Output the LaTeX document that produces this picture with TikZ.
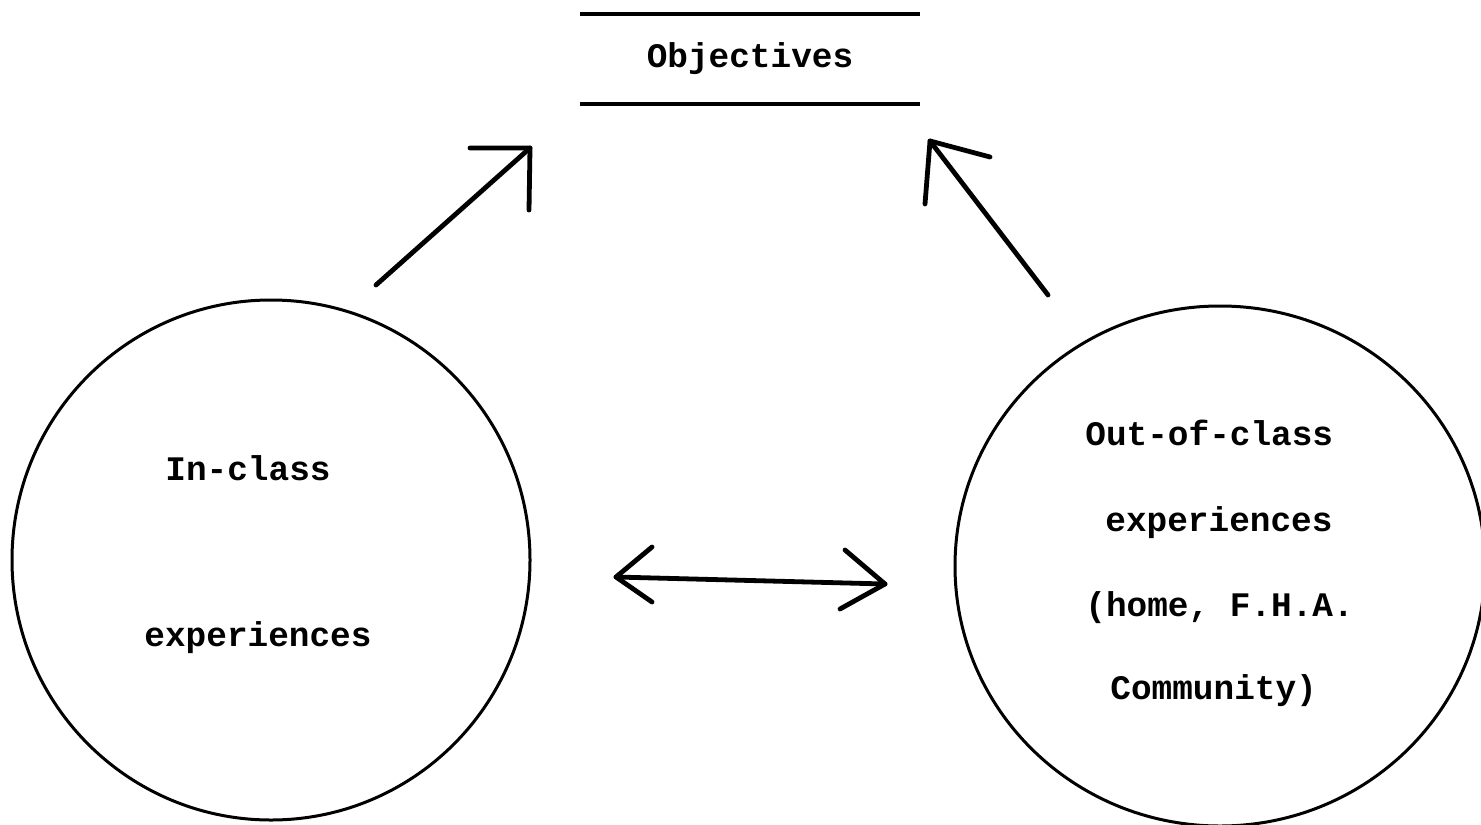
\documentclass[tikz,border=0pt]{standalone}
\usepackage{fontspec}
\setmonofont{Liberation Mono}
\usetikzlibrary{shapes.geometric}
\begin{document}
\begin{tikzpicture}[x=0.5pt,y=-0.5pt,
  lbl/.style={font=\ttfamily\bfseries\fontsize{17.2}{20}\selectfont, inner sep=0pt, anchor=base},
  rule/.style={line width=1.9pt},
  arr/.style={line width=2.4pt, line cap=round, line join=round},
  ring/.style={line width=1.5pt, draw, ellipse, inner sep=0pt}]
\useasboundingbox (0,0) rectangle (1481,824);
\begin{scope}
\clip (0,0) rectangle (1481,824);
% circles
\node[ring, minimum width=259pt, minimum height=260pt] (inc) at (271,560) {};
\node[ring, minimum width=265pt, minimum height=260pt] (outc) at (1220,566) {};
\end{scope}
% objectives
\coordinate (t1) at (580,14); \coordinate (t2) at (920,14);
\coordinate (b1) at (580,104); \coordinate (b2) at (920,104);
\draw[rule] (t1) -- (t2);
\draw[rule] (b1) -- (b2);
\node[lbl] (obj) at (750,68) {Objectives};
% texts
\node[lbl] (in1) at (248,480) {In-class};
\node[lbl] (in2) at (258,646) {experiences};
\node[lbl, anchor=base west] (o1) at (1085,445) {Out-of-class};
\node[lbl, anchor=base west] (o2) at (1105,531) {experiences};
\node[lbl, anchor=base west] (o3) at (1085,616) {(home, F.H.A.};
\node[lbl, anchor=base west] (o4) at (1110,699) {Community)};
% left arrow
\coordinate (la0) at (376,285); \coordinate (la1) at (530,148);
\coordinate (lah1) at (470,148); \coordinate (lah2) at (529,210);
\draw[arr] (la0) -- (la1);
\draw[arr] (lah1) -- (la1) -- (lah2);
% right arrow
\coordinate (ra0) at (1048,295); \coordinate (ra1) at (930,141);
\coordinate (rah1) at (990,157); \coordinate (rah2) at (925,204);
\draw[arr] (ra0) -- (ra1);
\draw[arr] (rah1) -- (ra1) -- (rah2);
% double arrow
\coordinate (da0) at (616,577); \coordinate (da1) at (885,584);
\coordinate (dl1) at (652,547); \coordinate (dl2) at (652,602);
\coordinate (dr1) at (845,550); \coordinate (dr2) at (840,609);
\draw[arr] (da0) -- (da1);
\draw[arr] (dl1) -- (da0) -- (dl2);
\draw[arr] (dr1) -- (da1) -- (dr2);
\end{tikzpicture}
\end{document}
